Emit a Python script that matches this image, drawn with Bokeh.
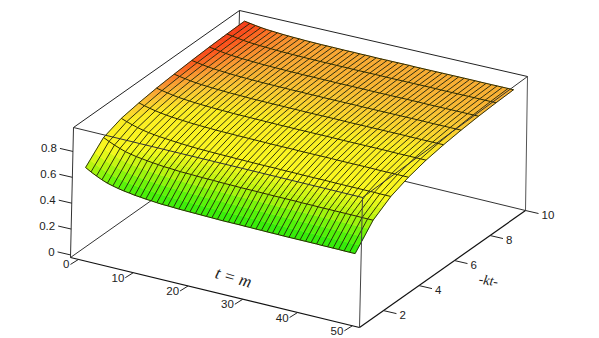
from bokeh.plotting import figure
from bokeh.embed import file_html
from bokeh.resources import INLINE
from bokeh.core.properties import value
import numpy as np

m_values = list(range(1, 51))
k_values = list(range(1, 11))
z_rows = [
 [.700,.676,.655,.636,.620,.609,.599,.591,.585,.578,.574,.569,.566,.562,.559,.558,.556,.554,.553,.552,.551,.550,.549,.548,.547,.546,.546,.546,.546,.545,.545,.544,.544,.543,.543,.543,.542,.542,.542,.542,.542,.542,.542,.541,.541,.541,.541,.540,.540,.540],
 [.836,.816,.798,.782,.768,.758,.750,.744,.738,.733,.729,.724,.722,.719,.716,.715,.714,.712,.711,.710,.710,.708,.707,.707,.706,.705,.705,.705,.705,.704,.704,.703,.703,.703,.703,.703,.702,.702,.702,.701,.701,.701,.701,.701,.701,.701,.701,.700,.700,.700],
 [.888,.873,.859,.847,.837,.829,.823,.818,.814,.810,.807,.804,.801,.799,.797,.796,.795,.794,.793,.793,.792,.791,.791,.790,.790,.789,.789,.789,.789,.788,.788,.788,.788,.787,.787,.787,.787,.787,.787,.786,.786,.786,.786,.786,.786,.786,.786,.785,.785,.785],
 [.912,.900,.890,.881,.874,.868,.863,.860,.857,.853,.851,.849,.847,.846,.844,.843,.843,.842,.841,.841,.840,.840,.839,.839,.838,.838,.838,.838,.838,.837,.837,.837,.837,.837,.837,.837,.836,.836,.836,.836,.836,.836,.836,.835,.835,.835,.835,.835,.835,.835],
 [.930,.921,.913,.905,.899,.895,.891,.888,.885,.883,.881,.879,.878,.877,.875,.875,.874,.874,.873,.873,.872,.872,.871,.871,.871,.870,.870,.870,.870,.870,.870,.870,.870,.869,.869,.869,.869,.869,.869,.869,.869,.869,.869,.868,.868,.868,.868,.868,.868,.868],
 [.942,.934,.927,.920,.915,.911,.908,.905,.903,.901,.899,.898,.897,.896,.894,.894,.893,.893,.892,.892,.892,.891,.891,.891,.890,.890,.890,.890,.890,.890,.890,.889,.889,.889,.889,.889,.889,.889,.889,.889,.889,.889,.889,.888,.888,.888,.888,.888,.888,.888],
 [.952,.945,.938,.932,.927,.924,.921,.918,.916,.914,.913,.911,.910,.909,.908,.908,.907,.907,.906,.906,.906,.905,.905,.905,.904,.904,.904,.904,.904,.904,.904,.903,.903,.903,.903,.903,.903,.903,.903,.903,.903,.903,.903,.902,.902,.902,.902,.902,.902,.902],
 [.960,.953,.946,.940,.935,.932,.929,.927,.925,.923,.921,.920,.919,.918,.917,.916,.916,.915,.915,.915,.914,.914,.914,.913,.913,.913,.913,.913,.913,.912,.912,.912,.912,.912,.912,.912,.912,.912,.912,.911,.911,.911,.911,.911,.911,.911,.911,.911,.911,.911],
 [.965,.958,.951,.945,.940,.937,.934,.932,.930,.928,.926,.925,.924,.923,.922,.921,.921,.920,.920,.920,.919,.919,.919,.918,.918,.918,.918,.918,.918,.917,.917,.917,.917,.917,.917,.917,.917,.917,.917,.916,.916,.916,.916,.916,.916,.916,.916,.916,.916,.916],
 [.968,.961,.954,.948,.943,.940,.937,.934,.932,.930,.929,.927,.926,.925,.924,.924,.923,.923,.922,.922,.922,.921,.921,.921,.920,.920,.920,.920,.920,.920,.920,.919,.919,.919,.919,.919,.919,.919,.919,.919,.919,.919,.919,.918,.918,.918,.918,.918,.918,.918],
]
z_ticks = [0, 0.2, 0.4, 0.6, 0.8]
z_tick_labels = ["0", "0.2", "0.4", "0.6", "0.8"]
x_ticks = [0, 10, 20, 30, 40, 50]
k_ticks = [2, 4, 6, 8, 10]
x_title = "t = m"
k_title = "-kt-"

XMIN, XMAX = -1.46, 51.3
KMIN, KMAX = 0.65, 10.0
ZMIN, ZMAX = -0.02, 0.985
C = {(0,0,0):(70,257),(1,0,0):(359,327),(0,1,0):(236,140),(1,1,0):(525,210),
     (0,0,1):(73,127),(1,0,1):(362,197),(0,1,1):(239,10),(1,1,1):(527,76)}

def proj(x, k, z):
    u = (np.asarray(x, float)-XMIN)/(XMAX-XMIN)
    v = (np.asarray(k, float)-KMIN)/(KMAX-KMIN)
    w = (np.asarray(z, float)-ZMIN)/(ZMAX-ZMIN)
    sx = sy = 0
    for (a,b,c),(px,py) in C.items():
        f = (u if a else 1-u)*(v if b else 1-v)*(w if c else 1-w)
        sx = sx+f*px; sy = sy+f*py
    return sx, sy

stops = [(.54,(40,235,10)),(.62,(95,245,10)),(.70,(180,245,15)),(.78,(250,250,30)),(.875,(252,238,35)),(.905,(250,200,50)),(.925,(248,160,50)),(.95,(252,85,28)),(.97,(245,55,25))]
def colour(z):
    zs=[s[0] for s in stops]
    c=[int(np.interp(z,zs,[s[1][i] for s in stops])) for i in range(3)]
    return "#%02x%02x%02x"%tuple(c)

p = figure(width=599, height=338, x_range=(0,599), y_range=(338,0), output_backend="svg",
           toolbar_location=None, min_border=0, outline_line_color=None, background_fill_color="white")
p.axis.visible=False
p.grid.visible=False

def seg(a,b,color="#222222",w=1.0):
    s=proj(*a); e=proj(*b)
    p.line([float(s[0]),float(e[0])],[float(s[1]),float(e[1])],line_color=color,line_width=w)

seg((XMIN,KMIN,ZMIN),(XMIN,KMAX,ZMIN),"#333333")
seg((XMIN,KMAX,ZMIN),(XMAX,KMAX,ZMIN),"#333333")
seg((XMIN,KMAX,ZMIN),(XMIN,KMAX,ZMAX),"#333333")
seg((XMAX,KMAX,ZMIN),(XMAX,KMAX,ZMAX),"#555555")
seg((XMIN,KMAX,ZMAX),(XMAX,KMAX,ZMAX))
seg((XMIN,KMIN,ZMAX),(XMIN,KMAX,ZMAX))

Z=np.array(z_rows)
# the surface's grid sits slightly inside the box ticks
M=0.9+(np.array(m_values,float)-1)*1.006
K=0.65+(np.array(k_values,float)-1)*0.99
xs=[];ys=[];cs=[]
SUB=4
for j in range(len(K)-1):
    for i in range(len(M)-1):
        for s in range(SUB):
            t0=s/SUB;t1=(s+1)/SUB
            za0=Z[j,i]*(1-t0)+Z[j+1,i]*t0; za1=Z[j,i]*(1-t1)+Z[j+1,i]*t1
            zb0=Z[j,i+1]*(1-t0)+Z[j+1,i+1]*t0; zb1=Z[j,i+1]*(1-t1)+Z[j+1,i+1]*t1
            ka0=K[j]*(1-t0)+K[j+1]*t0; ka1=K[j]*(1-t1)+K[j+1]*t1
            a=proj(M[i],ka0,za0);b=proj(M[i+1],ka0,zb0);c=proj(M[i+1],ka1,zb1);d=proj(M[i],ka1,za1)
            xs.append([float(q[0]) for q in (a,b,c,d)]);ys.append([float(q[1]) for q in (a,b,c,d)])
            cs.append(colour((za0+za1+zb0+zb1)/4))
p.patches(xs,ys,fill_color=cs,line_color=cs,line_width=0.6)

for i in range(len(M)):
    sx,sy=proj(np.full(len(K),M[i]),K,Z[:,i])
    p.line(sx.tolist(),sy.tolist(),line_color="#1c2008",line_width=0.9)
for j in range(len(K)):
    sx,sy=proj(M,np.full(len(M),K[j]),Z[j,:])
    p.line(sx.tolist(),sy.tolist(),line_color="#2a2a00",line_width=1.0)

seg((XMIN,KMIN,ZMIN),(XMAX,KMIN,ZMIN),"#111111",1.2)
seg((XMAX,KMIN,ZMIN),(XMAX,KMAX,ZMIN),"#111111",1.2)
seg((XMIN,KMIN,ZMIN),(XMIN,KMIN,ZMAX),"#333333")
seg((XMAX,KMIN,ZMIN),(XMAX,KMIN,ZMAX),"#444444")
seg((XMIN,KMIN,ZMAX),(XMAX,KMIN,ZMAX),"#333333")
seg((XMAX,KMIN,ZMAX),(XMAX,KMAX,ZMAX),"#333333")

font=value("Liberation Sans")
for t,l in zip(z_ticks,z_tick_labels):
    sx,sy=proj(XMIN,KMIN,t)
    sx=float(sx);sy=float(sy)
    p.line([sx-13,sx],[sy-3,sy],line_color="#222222",line_width=1)
    p.text([sx-16],[sy-3],text=[l],text_font=font,text_font_size="11.5px",text_align="right",text_baseline="middle",text_color="#222222")
for t in x_ticks:
    sx,sy=proj(t,KMIN,ZMIN)
    sx=float(sx);sy=float(sy)
    p.line([sx-8,sx],[sy+5,sy],line_color="#222222",line_width=1)
    p.text([sx-9],[sy+5],text=[str(t)],text_font=font,text_font_size="11.5px",text_align="right",text_baseline="middle",text_color="#222222")
for t in k_ticks:
    sx,sy=proj(XMAX,t,ZMIN)
    sx=float(sx);sy=float(sy)
    p.line([sx,sx+13],[sy,sy+3],line_color="#222222",line_width=1)
    p.text([sx+16],[sy+4],text=[str(t)],text_font=font,text_font_size="11.5px",text_align="left",text_baseline="middle",text_color="#222222")
p.text([233],[277],text=[x_title],text_font=value("Liberation Serif"),text_font_style="italic",text_font_size="17px",angle=-0.27,text_align="center",text_baseline="middle",text_color="#222222")
p.text([488],[280],text=[k_title],text_font=value("Liberation Serif"),text_font_style="italic",text_font_size="14px",angle=-0.15,text_align="center",text_baseline="middle",text_color="#222222")

open("out.html","w").write(file_html(p,INLINE))
